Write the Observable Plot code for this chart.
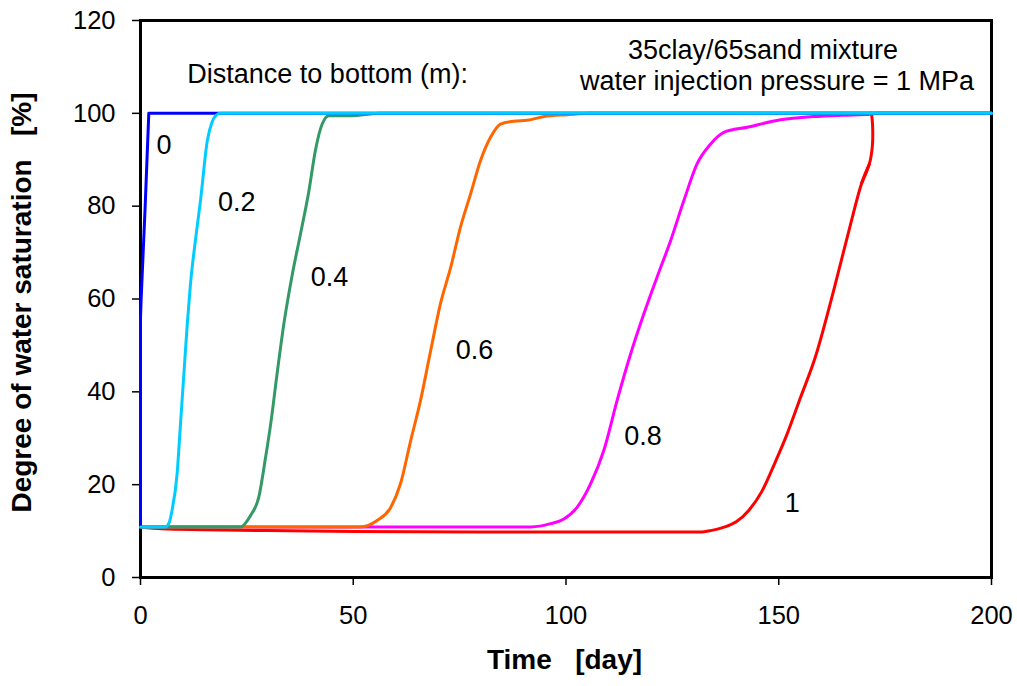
<!DOCTYPE html>
<html>
<head>
<meta charset="utf-8">
<script src="https://cdn.jsdelivr.net/npm/d3@7"></script>
<script src="https://cdn.jsdelivr.net/npm/@observablehq/plot@0.6"></script>
<style>
  html, body { margin: 0; padding: 0; background: #fff; }
  #chart { width: 1017px; height: 686px; }
</style>
</head>
<body>
<div id="chart"></div>
<script>
// ---- data ----
const xTicks = [0, 50, 100, 150, 200];
const yTicks = [0, 20, 40, 60, 80, 100, 120];

const distances = ["0", "0.2", "0.4", "0.6", "0.8", "1"];
const colors = ["#0000FF", "#00CCFF", "#339966", "#FF6600", "#FF00FF", "#FF0000"];

// distance 0 m
const t0 = [0, 0, 0.15, 1.1, 1.95, 200];
const s0 = [10.9, 56, 60, 80, 100, 100];
// distance 0.2 m
const t02 = [0, 5.9, 6.8, 7.4, 8.6, 9.4, 10.2, 11.0, 11.75, 12.9, 14.1, 15.7, 16.8, 17.8, 18.8, 25, 200];
const s02 = [10.9, 10.9, 12.0, 14.4, 22.3, 33.1, 43.9, 54.7, 63.3, 72.6, 81.2, 94.1, 98.1, 99.6, 100, 100, 100];
// distance 0.4 m
const t04 = [0, 23.5, 25.9, 27.8, 29.4, 30.6, 32.1, 33.7, 35.7, 37.6, 39.6, 41.1, 42.7, 44.3, 49.4, 56.4, 200];
const s04 = [10.9, 10.9, 13.4, 17.3, 25.9, 33.1, 43.9, 54.7, 65.4, 74.0, 83.4, 92.0, 97.7, 99.5, 99.5, 100, 100];
// distance 0.6 m
const t06 = [0, 51.7, 55.6, 58.8, 61.1, 63.5, 65.8, 68.2, 70.5, 72.9, 75.2, 77.6, 79.9, 82.3, 84.6, 87.7, 90.9, 94.8, 100.3, 105.8, 200];
const s06 = [10.9, 10.9, 12.3, 15.1, 20.2, 29.5, 38.1, 48.9, 59.0, 66.8, 75.5, 82.7, 89.8, 94.9, 97.7, 98.3, 98.5, 99.3, 99.7, 100, 100];
// distance 0.8 m
const t08 = [0, 91.7, 96.4, 99.5, 102.6, 105.8, 108.9, 112.0, 115.2, 118.3, 121.4, 124.6, 127.7, 130.8, 134.0, 137.1, 142.6, 150.4, 158.2, 165, 171.6, 173, 200];
const s08 = [10.9, 10.9, 11.6, 12.6, 15.1, 20.2, 27.4, 38.1, 48.2, 56.8, 64.7, 72.6, 81.2, 89.1, 93.4, 95.9, 97.0, 98.6, 99.3, 99.6, 99.8, 100, 100];
// distance 1 m (rising part, then near-vertical tail)
const t1 = [0, 5, 15, 30, 50, 80, 131.5, 134, 137, 140, 143, 146, 149, 152, 155, 158.6, 162.9, 166.9, 169.5, 171.3];
const s1 = [10.9, 10.5, 10.3, 10.1, 9.9, 9.8, 9.8, 10.1, 10.8, 12.0, 14.5, 18.5, 24.5, 31.0, 38.5, 47.5, 61.8, 76.2, 85.0, 89.1];
const t1tail = [169.5, 171.3, 172.0, 172.05, 171.8];
const s1tail = [85.0, 89.1, 93.0, 97.5, 100];

// curve labels
const labelX = [5.5, 22.6, 44.4, 78.5, 118.1, 153.2];
const labelY = [93.1, 80.8, 64.7, 48.9, 30.5, 15.9];

// annotations
const noteText = ["Distance to bottom (m):", "35clay/65sand mixture", "water injection pressure = 1 MPa"];
const noteX = [11, 146.3, 149.6];
const noteY = [108.4, 113.6, 106.8];
const noteAnchor = ["start", "middle", "middle"];

const xTitle = "Time\u00a0\u00a0\u00a0[day]";
const yTitle = "Degree of water saturation\u00a0\u00a0\u00a0[%]";

// ---- build tables ----
const seriesT = [t0, t02, t04, t06, t08, t1];
const seriesS = [s0, s02, s04, s06, s08, s1];
const series = distances.map((d, i) => seriesT[i].map((t, j) => ({distance: d, time: t, sat: seriesS[i][j]})));
const redTail = t1tail.map((t, j) => ({distance: "1", time: t, sat: s1tail[j]}));
const labels = distances.map((d, i) => ({text: d, x: labelX[i], y: labelY[i]}));
const notes = noteText.map((t, i) => ({text: t, x: noteX[i], y: noteY[i], anchor: noteAnchor[i]}));

// drawing order: 1, 0.8, 0.6, 0.4, 0, 0.2
const drawOrder = [5, 4, 3, 2, 0, 1];

const font = "Arial, 'Liberation Sans', sans-serif";

const lineMarks = [];
for (const i of drawOrder) {
  lineMarks.push(Plot.line(series[i], {
    x: "time", y: "sat", stroke: colors[i], strokeWidth: 3,
    strokeLinejoin: "round", strokeLinecap: "round",
    curve: i === 0 ? "linear" : "monotone-x"
  }));
  if (i === 5) {
    lineMarks.push(Plot.line(redTail, {
      x: "time", y: "sat", stroke: colors[5], strokeWidth: 3,
      strokeLinejoin: "round", strokeLinecap: "round", curve: "catmull-rom"
    }));
  }
}

const chart = Plot.plot({
  width: 1017,
  height: 686,
  marginLeft: 140,
  marginRight: 26,
  marginTop: 20,
  marginBottom: 109,
  style: {fontFamily: font, background: "white", color: "black", overflow: "visible"},
  x: {domain: [0, 200], label: null},
  y: {domain: [0, 120], label: null},
  marks: [
    Plot.axisX({ticks: xTicks, tickSize: 8, tickPadding: 20, fontSize: 25.5, strokeWidth: 1.5, label: null, tickFormat: d => String(d)}),
    Plot.axisY({ticks: yTicks, tickSize: 8, tickPadding: 17, fontSize: 25.5, strokeWidth: 1.5, label: null, tickFormat: d => String(d)}),
    Plot.frame({stroke: "black", strokeWidth: 3}),
    ...lineMarks,
    Plot.text(labels, {x: "x", y: "y", text: "text", fontSize: 27, textAnchor: "middle", lineAnchor: "middle", fill: "black"}),
    Plot.text(notes.filter(n => n.anchor === "start"), {x: "x", y: "y", text: "text", fontSize: 27, textAnchor: "start", lineAnchor: "middle", fill: "black"}),
    Plot.text(notes.filter(n => n.anchor === "middle"), {x: "x", y: "y", text: "text", fontSize: 27, textAnchor: "middle", lineAnchor: "middle", fill: "black"}),
    Plot.text([xTitle], {frameAnchor: "bottom", textAnchor: "middle", lineAnchor: "middle", dy: 83, dx: -1.5, fontSize: 28, fontWeight: "bold", fill: "black"}),
    Plot.text([yTitle], {frameAnchor: "left", textAnchor: "middle", lineAnchor: "middle", rotate: -90, dx: -118, dy: 3.5, fontSize: 28, fontWeight: "bold", fill: "black"})
  ]
});

document.getElementById("chart").appendChild(chart);
</script>
</body>
</html>
